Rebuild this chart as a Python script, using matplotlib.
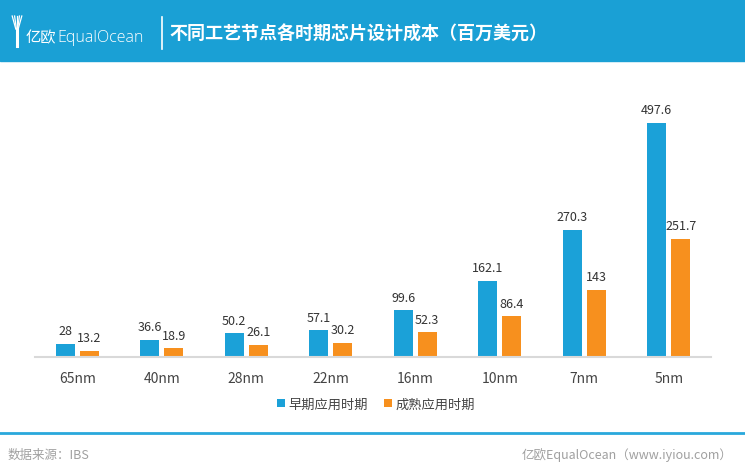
import numpy as np
import matplotlib.pyplot as plt
from matplotlib.patches import Rectangle
from matplotlib.lines import Line2D

plt.rcParams['font.family'] = ['Noto Sans CJK SC', 'DejaVu Sans']

# data
nodes = ['65nm', '40nm', '28nm', '22nm', '16nm', '10nm', '7nm', '5nm']
early = [28, 36.6, 50.2, 57.1, 99.6, 162.1, 270.3, 497.6]
mature = [13.2, 18.9, 26.1, 30.2, 52.3, 86.4, 143, 251.7]
series_names = ['早期应用时期', '成熟应用时期']

blue = '#1ba1d8'
orange = '#f7901e'
header_blue = '#1aa0d5'

fig = plt.figure(figsize=(7.45, 4.77), dpi=100)
W, H = 745, 477

def fx(px):
    return px / W

def fy(py):
    return 1 - py / H

# header band
fig.patches.append(Rectangle((0, fy(62)), 1, 62 / H, transform=fig.transFigure,
                             color=header_blue, zorder=0))
# rough logo icon
for dx in (-4, -2, 0, 2, 4):
    fig.lines.append(Line2D([fx(17 + dx * 1.2), fx(17 + dx * 0.3)], [fy(17), fy(30)],
                            transform=fig.transFigure, color='white', lw=0.9))
fig.lines.append(Line2D([fx(17), fx(17)], [fy(30), fy(47)], transform=fig.transFigure,
                        color='white', lw=2.2))
fig.text(fx(26), fy(38), '亿欧', color='white', fontsize=11, va='center', ha='left')
fig.text(fx(57), fy(38), 'EqualOcean', color='white', fontsize=11.5, va='center', ha='left',
         family=['Open Sans', 'DejaVu Sans'], fontweight='light')
fig.lines.append(Line2D([fx(162), fx(162)], [fy(18), fy(50)], transform=fig.transFigure,
                        color='white', lw=1.2))
fig.text(fx(169), fy(34), '不同工艺节点各时期芯片设计成本（百万美元）', color='white',
         fontsize=13, fontweight='bold', va='center', ha='left')

# chart
ax = fig.add_axes([fx(35), fy(358), fx(711) - fx(35), (358 - 80) / H])
x = np.arange(len(nodes))
w = 0.225
off = 0.142
b1 = ax.bar(x - off, early, w, color=blue, label=series_names[0])
b2 = ax.bar(x + off, mature, w, color=orange, label=series_names[1])
for xi, v in zip(x, early):
    ax.text(xi - off, v + 14, f'{v:g}', ha='center', va='bottom', fontsize=9, color='#333333')
for xi, v in zip(x, mature):
    ax.text(xi + off, v + 14, f'{v:g}', ha='center', va='bottom', fontsize=9, color='#333333')

ax.set_xlim(-0.5, len(nodes) - 0.5)
ax.set_ylim(0, 591)
ax.set_yticks([])
ax.set_xticks(x)
ax.set_xticklabels(nodes, fontsize=10, color='#444444')
ax.tick_params(axis='x', length=0, pad=10)
for s in ['top', 'right', 'left']:
    ax.spines[s].set_visible(False)
ax.spines['bottom'].set_color('#d9d9d9')
ax.spines['bottom'].set_linewidth(1.5)

fig.legend(handles=[b1, b2], loc='center', bbox_to_anchor=(fx(376), fy(405)), ncol=2,
           frameon=False, fontsize=9.5, handlelength=0.6, handleheight=0.6,
           handletextpad=0.3, columnspacing=1.2, labelcolor='#444444')

# footer
fig.lines.append(Line2D([0, 1], [fy(434), fy(434)], transform=fig.transFigure,
                        color='#29a8dc', lw=2))
fig.text(fx(8), fy(455), '数据来源：IBS', color='#a0a0a0', fontsize=9, va='center', ha='left')
fig.text(fx(733), fy(455), '亿欧EqualOcean（www.iyiou.com）', color='#a0a0a0', fontsize=9,
         va='center', ha='right')

fig.savefig('out.png', dpi=100)
